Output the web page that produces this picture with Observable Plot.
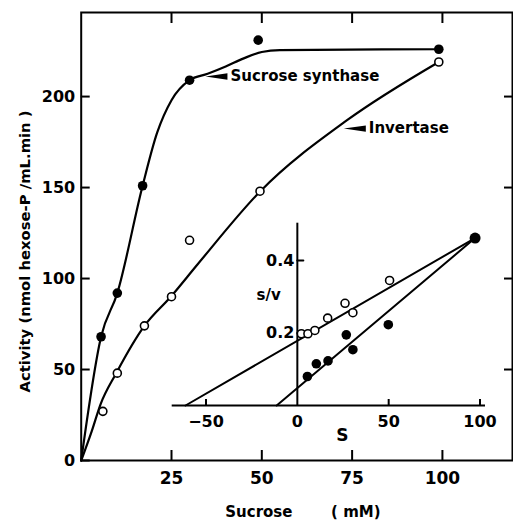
<!DOCTYPE html>
<html><head><meta charset="utf-8">
<script src="https://cdn.jsdelivr.net/npm/d3@7"></script>
<script src="https://cdn.jsdelivr.net/npm/@observablehq/plot@0.6"></script>
<style>
body{margin:0;background:#fff;}
#wrap{position:relative;width:513px;height:521px;overflow:hidden;}
#wrap svg{position:absolute;}
</style></head><body><div id="wrap"></div>
<script>
// ---- main plot data ----
const synthSucrose = [5.5, 10, 17, 30, 49, 99];
const synthActivity = [68, 92, 151, 209, 231, 226];
const invSucrose = [6, 10, 17.5, 25, 30, 49.5, 99];
const invActivity = [27, 48, 74, 90, 121, 148, 219];
const synthCurveX = [0, 5.5, 10, 17, 21, 25, 30, 35, 40, 45, 50, 55, 99];
const synthCurveY = [0, 68, 92, 151, 180, 198, 209, 212.5, 216.5, 221, 224.5, 225.5, 226];
const invCurveX = [0, 2.9, 5.3, 9.7, 17.5, 24.8, 32.3, 49.6, 73.6, 99];
const invCurveY = [0, 16, 30.6, 48, 74, 90, 108, 148, 187, 219];
const xTicks = [25, 50, 75, 100];
const yTicks = [0, 50, 100, 150, 200];
const seriesNames = ["Sucrose synthase", "Invertase"];
// ---- inset (s/v vs S) data ----
const insetOpenS = [2.2, 5.8, 9.6, 16.6, 26.1, 30.4, 50.5];
const insetOpenSV = [0.198, 0.198, 0.207, 0.241, 0.282, 0.256, 0.345];
const insetFilledS = [5.5, 10.4, 16.8, 26.8, 30.4, 49.8];
const insetFilledSV = [0.080, 0.115, 0.123, 0.195, 0.154, 0.223];
const insetEndS = [97.3];
const insetEndSV = [0.462];
const openFitS = [-61.2, 97.3];
const openFitSV = [0, 0.462];
const filledFitS = [-11.3, 97.3];
const filledFitSV = [0, 0.462];
const insetXTicks = [-50, 0, 50, 100];
const insetYTicks = [0.2, 0.4];

const zip = (xs, ys) => xs.map((x, i) => ({x, y: ys[i]}));
const font = {fontFamily: "DejaVu Sans", fontWeight: "bold", color: "black", background: "transparent", overflow: "visible"};
const wedge = {draw(c, l, r) { c.moveTo(0, -l); c.lineTo(r, 0); c.lineTo(-r, 0); c.closePath(); }};
const tickLine = {draw(c, l) { c.moveTo(0, 0); c.lineTo(0, -l); }};

const annotations = [
  {name: seriesNames[0], x: 34.4, y: 211},
  {name: seriesNames[1], x: 72.7, y: 182.4}
];

const main = Plot.plot({
  width: 513, height: 521,
  marginLeft: 80.7, marginRight: 1, marginTop: 12, marginBottom: 61,
  x: {domain: [0, 119.4]},
  y: {domain: [0, 246.2]},
  style: {...font, fontSize: "16px"},
  marks: [
    Plot.frame({strokeWidth: 2}),
    Plot.axisY(yTicks, {anchor: "left", tickSize: -9, tickPadding: 15, label: null, fontSize: 16, strokeWidth: 2}),
    Plot.axisY(yTicks.slice(1), {anchor: "right", tickSize: -9, tickFormat: () => "", label: null, strokeWidth: 2}),
    Plot.axisX(xTicks, {anchor: "bottom", tickSize: -10, tickPadding: 21, label: null, fontSize: 17, strokeWidth: 2}),
    Plot.axisX(xTicks, {anchor: "top", tickSize: -10, tickFormat: () => "", label: null, strokeWidth: 2}),
    Plot.line(zip(synthCurveX, synthCurveY), {x: "x", y: "y", curve: "monotone-x", strokeWidth: 2.2}),
    Plot.line(zip(invCurveX, invCurveY), {x: "x", y: "y", curve: "monotone-x", strokeWidth: 2.2}),
    Plot.dot(zip(synthSucrose, synthActivity), {x: "x", y: "y", r: 4.8, fill: "black", stroke: "none"}),
    Plot.dot(zip(invSucrose, invActivity), {x: "x", y: "y", r: 4, fill: "white", stroke: "black", strokeWidth: 1.6}),
    Plot.vector(annotations, {x: "x", y: "y", rotate: -90, length: 22, r: 3.2, anchor: "end", shape: wedge, fill: "black", stroke: "none"}),
    Plot.text(annotations, {x: "x", y: "y", text: "name", textAnchor: "start", dx: 25, fontSize: 15}),
    Plot.text(["Activity (nmol hexose-P /mL.min )"], {frameAnchor: "left", textAnchor: "middle", lineAnchor: "middle", rotate: -90, dx: -55.7, dy: 15, fontSize: 14.8}),
    Plot.text(["Sucrose"], {frameAnchor: "bottom", textAnchor: "middle", lineAnchor: "middle", dx: -38, dy: 52, fontSize: 15}),
    Plot.text(["( mM)"], {frameAnchor: "bottom", textAnchor: "middle", lineAnchor: "middle", dx: 59, dy: 52, fontSize: 15})
  ]
});
main.style.left = "0px"; main.style.top = "0px";

const inset = Plot.plot({
  width: 350, height: 250,
  marginLeft: 21.7, marginRight: 15, marginTop: 22.7, marginBottom: 45,
  x: {domain: [-68.5, 103]},
  y: {domain: [0, 0.503], axis: null},
  style: {...font, fontSize: "16px"},
  marks: [
    Plot.ruleY([0], {strokeWidth: 2}),
    Plot.ruleX([0], {strokeWidth: 2}),
    Plot.axisX([-50, 50, 100], {anchor: "bottom", tickSize: -6, tickFormat: () => "", label: null, strokeWidth: 2}),
    Plot.axisX(insetXTicks, {anchor: "bottom", tickSize: 0, tickPadding: 10, label: null, fontSize: 16}),
    Plot.vector(insetYTicks, {x: 0, y: d => d, rotate: 90, length: 6, anchor: "start", shape: tickLine, stroke: "black", strokeWidth: 2}),
    Plot.text(insetYTicks, {x: 0, y: d => d, text: d => d.toFixed(1), textAnchor: "end", dx: -3, fontSize: 16}),
    Plot.text(["s/v"], {x: -15.7, y: 0.303, fontSize: 15}),
    Plot.text(["S"], {x: 24.6, y: -0.083, fontSize: 17}),
    Plot.line(zip(openFitS, openFitSV), {x: "x", y: "y", strokeWidth: 2}),
    Plot.line(zip(filledFitS, filledFitSV), {x: "x", y: "y", strokeWidth: 2}),
    Plot.dot(zip(insetFilledS, insetFilledSV), {x: "x", y: "y", r: 4.8, fill: "black", stroke: "none"}),
    Plot.dot(zip(insetOpenS, insetOpenSV), {x: "x", y: "y", r: 4, fill: "white", stroke: "black", strokeWidth: 1.6}),
    Plot.dot(zip(insetEndS, insetEndSV), {x: "x", y: "y", r: 5.5, fill: "black", stroke: "none"})
  ]
});
inset.style.left = "150px"; inset.style.top = "200px";

const wrap = document.getElementById("wrap");
wrap.appendChild(main);
wrap.appendChild(inset);
</script></body></html>
